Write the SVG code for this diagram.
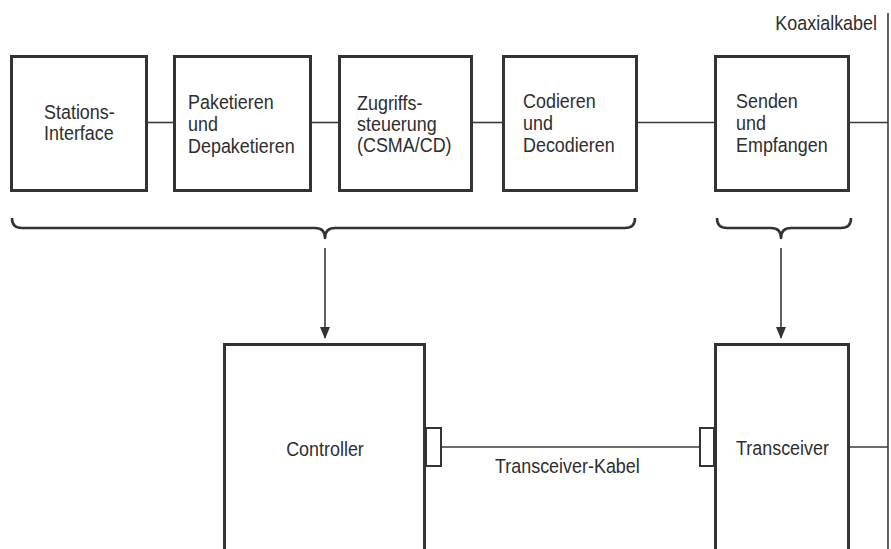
<svg xmlns="http://www.w3.org/2000/svg" width="891" height="549" viewBox="0 0 891 549">
<style>
.box{fill:#fff;stroke:#333;stroke-width:3}
.ln{fill:none;stroke:#3a3a3a;stroke-width:1.6}
.br{fill:none;stroke:#333;stroke-width:2.6;stroke-linejoin:round}
.port{fill:#fff;stroke:#333;stroke-width:2}
text{font-family:"Liberation Sans",Arial,sans-serif;font-size:19.5px;fill:#2e2e2e}
</style>
<defs>
<marker id="ah" markerWidth="12" markerHeight="10" refX="11" refY="5" orient="auto" markerUnits="userSpaceOnUse">
<path d="M0,0 L12,5 L0,10 z" fill="#333"/>
</marker>
</defs>
<rect width="891" height="549" fill="#fff"/>
<g id="connectors">
<line class="ln" x1="888" y1="13" x2="888" y2="549"/>
<line class="ln" x1="148" y1="122.5" x2="173" y2="122.5"/>
<line class="ln" x1="312" y1="122.5" x2="338" y2="122.5"/>
<line class="ln" x1="473" y1="122.5" x2="502" y2="122.5"/>
<line class="ln" x1="638" y1="122.5" x2="714" y2="122.5"/>
<line class="ln" x1="850" y1="122.5" x2="888" y2="122.5"/>
<path class="br" d="M12,218 Q12,228 22,228 L315,228 Q325,228 325,238 Q325,228 335,228 L625,228 Q635,228 635,218"/>
<path class="br" d="M717,218 Q717,228 727,228 L771,228 Q781,228 781,238 Q781,228 791,228 L841,228 Q851,228 851,218"/>
<line class="ln" x1="325" y1="248" x2="325" y2="338" marker-end="url(#ah)"/>
<line class="ln" x1="781" y1="248" x2="781" y2="338" marker-end="url(#ah)"/>
<line class="ln" x1="441" y1="447" x2="700" y2="447"/>
<line class="ln" x1="850" y1="447" x2="888" y2="447"/>
<g transform="translate(877,0) scale(0.92,1)"><text x="0" y="30" text-anchor="end">Koaxialkabel</text></g>
<g transform="translate(495,0) scale(0.92,1)"><text x="0" y="473">Transceiver-Kabel</text></g>
</g>
<g id="stations-interface">
<rect class="box" x="11.5" y="56.5" width="135" height="134"/>
<g transform="translate(44,0) scale(0.92,1)">
<text x="0" y="119">Stations-</text>
<text x="0" y="140">Interface</text>
</g>
</g>
<g id="paketieren">
<rect class="box" x="174.5" y="56.5" width="136" height="134"/>
<g transform="translate(188,0) scale(0.92,1)">
<text x="0" y="109">Paketieren</text>
<text x="0" y="131">und</text>
<text x="0" y="153">Depaketieren</text>
</g>
</g>
<g id="zugriffssteuerung">
<rect class="box" x="339.5" y="56.5" width="132" height="134"/>
<g transform="translate(357,0) scale(0.92,1)">
<text x="0" y="110">Zugriffs-</text>
<text x="0" y="131">steuerung</text>
<text x="0" y="152">(CSMA/CD)</text>
</g>
</g>
<g id="codieren">
<rect class="box" x="503.5" y="56.5" width="133" height="134"/>
<g transform="translate(523,0) scale(0.92,1)">
<text x="0" y="108">Codieren</text>
<text x="0" y="130">und</text>
<text x="0" y="152">Decodieren</text>
</g>
</g>
<g id="senden">
<rect class="box" x="715.5" y="56.5" width="133" height="134"/>
<g transform="translate(736,0) scale(0.92,1)">
<text x="0" y="108">Senden</text>
<text x="0" y="130">und</text>
<text x="0" y="152">Empfangen</text>
</g>
</g>
<g id="controller">
<rect class="box" x="224.5" y="344.5" width="200" height="230"/>
<rect class="port" x="426" y="428" width="15" height="38"/>
<g transform="translate(325,0) scale(0.92,1)"><text x="0" y="456" text-anchor="middle">Controller</text></g>
</g>
<g id="transceiver">
<rect class="box" x="715.5" y="344.5" width="133" height="230"/>
<rect class="port" x="700" y="428" width="14" height="38"/>
<g transform="translate(736,0) scale(0.92,1)"><text x="0" y="455">Transceiver</text></g>
</g>
</svg>
